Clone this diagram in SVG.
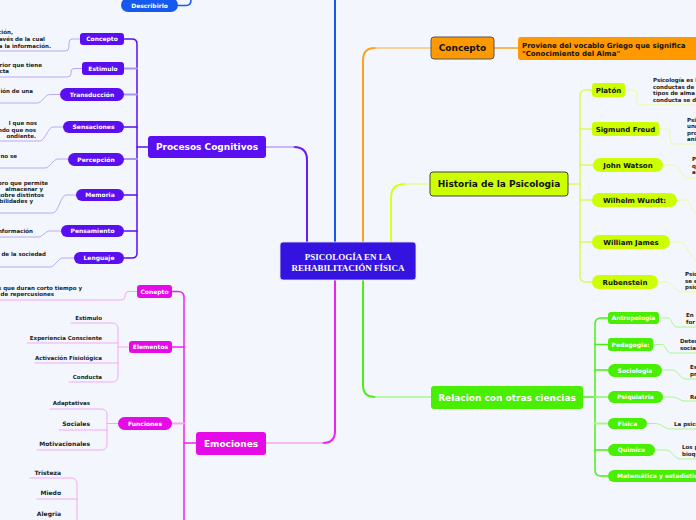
<svg xmlns="http://www.w3.org/2000/svg" width="696" height="520" viewBox="0 0 696 520">
<style>
.b9{font:bold 9px "DejaVu Sans",sans-serif}
.b7{font:bold 7px "DejaVu Sans",sans-serif}
.b6{font:bold 6px "DejaVu Sans",sans-serif}
.d{font:bold 5.5px "DejaVu Sans",sans-serif;fill:#222}
.s{font:bold 6px "DejaVu Sans",sans-serif;fill:#222}
.w{fill:#fff}
.k{fill:#111}
.m{text-anchor:middle}
.e{text-anchor:end}
.pu{fill:#5a0ff0}
.ma{fill:#e60ae6}
.gr{fill:#48ef00}
.yg{fill:#ccff00}
path{fill:none;stroke-linecap:round}
</style>
<rect width="696" height="520" fill="#f3f6fd"/>
<g id="connectors">
  <path d="M335,242 V0" stroke="#1659ee" stroke-width="2"/>
  <path d="M178,5.5 H186 Q191,5.5 191,0" stroke="#1659ee" stroke-width="1.5"/>
  <path d="M363,242 V60 Q363,48 375,48" stroke="#ffa020" stroke-width="2"/>
  <path d="M375,48 H431" stroke="#ffc27a" stroke-width="1.5"/>
  <path d="M494,48 H518" stroke="#ffa020" stroke-width="1.5"/>
  <path d="M391,242 V198 Q391,184 405,184" stroke="#d6ff22" stroke-width="2"/>
  <path d="M405,184 H430" stroke="#e6ff88" stroke-width="1.5"/>
  <path d="M307,242 V160 Q307,147 294,147" stroke="#6a1af5" stroke-width="2"/>
  <path d="M294,147 H266" stroke="#b9a2f8" stroke-width="1.5"/>
  <path d="M335,280 V431 Q335,443 323,443" stroke="#ee22ee" stroke-width="2"/>
  <path d="M323,443 H266" stroke="#f5a6f5" stroke-width="1.5"/>
  <path d="M363,280 V385 Q363,397 375,397" stroke="#4ef010" stroke-width="2"/>
  <path d="M375,397 H431" stroke="#a6f88a" stroke-width="1.5"/>
  <g stroke="#dcfa5a" stroke-width="1.5">
    <path d="M568,184 H580"/>
    <path d="M592,90 H586 Q580,90 580,96 V276 Q580,282 586,282 H592"/>
    <path d="M580,129 H592 M580,165 H593 M580,200 H592 M580,242 H592"/>
  </g>
  <g stroke="#e8ff9c" stroke-width="1">
    <path d="M625,90 H634 Q637,90 637,94 V101 Q637,105 641,105 H696"/>
    <path d="M659,129 H667 Q670,129 670,133 V140 Q670,144 674,144 H696"/>
    <path d="M663,165 H674 C680,165 682,178 688,178 H696"/>
    <path d="M677,200 H686 C690,200 692,212 696,213"/>
    <path d="M670,242 H680 C686,242 690,258 696,260"/>
    <path d="M658,282 H667 C673,282 675,292 681,292 H696"/>
  </g>
  <g stroke="#4ef010" stroke-width="1.5">
    <path d="M583,397 H595"/>
    <path d="M608,318 H601 Q595,318 595,324 V470 Q595,476 601,476 H608"/>
    <path d="M595,344.5 H608 M595,370 H608 M595,450 H608"/>
  </g>
  <g stroke="#a6f88a" stroke-width="2">
    <path d="M595,397 H608 M595,423.5 H608"/>
  </g>
  <g stroke="#a8f890" stroke-width="1">
    <path d="M659,318 H668 C672,318 672,327 677,327 H696"/>
    <path d="M653,344.5 H662 C666,344.5 666,353 671,353 H696"/>
    <path d="M662,370 H672 C678,370 680,379 686,379 H696"/>
    <path d="M663,397 H673 C678,397 680,401 685,401 H696"/>
    <path d="M647,423.5 H656 C662,423.5 664,429 670,429 H696"/>
    <path d="M655,450 H666 C672,450 674,459 680,459 H696"/>
  </g>
  <g stroke="#5a0ff0" stroke-width="1.5">
    <path d="M148,147 H137"/>
    <path d="M124,39 H132 Q137,39 137,44 V253 Q137,258 132,258 H124"/>
    <path d="M137,127 H124 M137,195 H124 M137,231 H124"/>
  </g>
  <g stroke="#ab92f6" stroke-width="2">
    <path d="M137,68.5 H124 M137,94.5 H124 M137,159 H124"/>
  </g>
  <g stroke="#bca8f8" stroke-width="1">
    <path d="M80,39 H72 Q69,39 69,43 V47 Q69,51 65,51 H0"/>
    <path d="M82,68.5 H74 Q71,68.5 71,72 V74 Q71,77 67,77 H0"/>
    <path d="M60,94.5 H50 C45,94.5 42,103 37,103 H0"/>
    <path d="M63,127 H53 C48,127 45,141 40,141 H0"/>
    <path d="M68,159 H58 C53,159 50,168 45,168 H0"/>
    <path d="M76,195 H66 C61,195 58,213 53,213 H0"/>
    <path d="M61,231 H50 C45,231 43,237 38,237 H0"/>
    <path d="M74,258 H63 C58,258 55,267 50,267 H0"/>
  </g>
  <g stroke="#ee22ee" stroke-width="1.5">
    <path d="M196,443 H184"/>
    <path d="M172,291.5 H178 Q184,291.5 184,297.5 V520"/>
    <path d="M184,347 H172"/>
  </g>
  <path d="M184,423.5 H172" stroke="#f5a6f5" stroke-width="2"/>
  <g stroke="#f5a8f5" stroke-width="1">
    <path d="M137,291.5 H129 Q125,291.5 125,295.5 V297 Q125,300 121,300 H0"/>
    <path d="M129,347 H118"/>
    <path d="M71,323 H112 Q118,323 118,329 V376 Q118,382 112,382 H69"/>
    <path d="M27,343 H118 M35,363 H118"/>
    <path d="M118,423.5 H107"/>
    <path d="M50,409 H101 Q107,409 107,415 V444 Q107,450 101,450 H37"/>
    <path d="M59,430 H107"/>
    <path d="M30,478 H71 Q77,478 77,484 V520"/>
    <path d="M37,499 H77"/>
  </g>
</g>
<g id="center">
  <rect x="280" y="242" width="136" height="38" rx="3" fill="#3412e0" stroke="#e8e6ff" stroke-width="0.8"/>
  <text x="348" y="259.5" class="m" fill="#fff" style="font:bold 9px 'Liberation Serif',serif">PSICOLOGÍA EN LA</text>
  <text x="348" y="270.5" class="m" fill="#fff" style="font:bold 9px 'Liberation Serif',serif">REHABILITACIÓN FÍSICA</text>
</g>
<g id="describirlo">
  <rect x="121" y="-2" width="57" height="14" rx="7" fill="#1659ee"/>
  <text x="149.5" y="7.5" class="b6 w m">Describirlo</text>
</g>
<g id="concepto-psicologia">
  <rect x="431" y="37" width="63" height="22" rx="3" fill="#ff9900" stroke="#555" stroke-width="1"/>
  <text x="462.5" y="51.3" class="b9 k m">Concepto</text>
</g>
<g id="concepto-desc">
  <rect x="518" y="37" width="190" height="23" rx="3" fill="#ff9900"/>
  <text x="522" y="47.5" class="b7 k">Proviene del vocablo Griego que significa</text>
  <text x="522" y="56" class="b7 k">"Conocimiento del Alma"</text>
</g>
<g id="historia">
  <rect x="430" y="172" width="138" height="24" rx="3" fill="#ccff00" stroke="#444" stroke-width="1"/>
  <text x="499" y="187.3" class="b9 k m">Historia de la Psicologia</text>
</g>
<g id="platon">
  <rect x="592" y="83" width="33" height="14" rx="3" class="yg"/>
  <text x="608.5" y="92.5" class="b7 k m">Platón</text>
  <text x="653" y="82" class="d">Psicología es l</text>
  <text x="653" y="88.5" class="d">conductas de l</text>
  <text x="653" y="95" class="d">tipos de alma</text>
  <text x="653" y="101.5" class="d">conducta se d</text>
</g>
<g id="freud">
  <rect x="592" y="122" width="67" height="14" rx="3" class="yg"/>
  <text x="625.5" y="131.5" class="b7 k m">Sigmund Freud</text>
  <text x="687" y="121.5" class="d">Psi</text>
  <text x="687" y="128" class="d">una</text>
  <text x="687" y="134.5" class="d">pro</text>
  <text x="687" y="141" class="d">ani</text>
</g>
<g id="watson">
  <rect x="593" y="158" width="70" height="14" rx="7" class="yg"/>
  <text x="628" y="167.5" class="b7 k m">John Watson</text>
  <text x="692" y="161" class="d">P</text>
  <text x="692" y="167.5" class="d">q</text>
  <text x="692" y="174" class="d">a</text>
</g>
<g id="wundt">
  <rect x="592" y="193" width="85" height="14" rx="7" class="yg"/>
  <text x="634.5" y="202.5" class="b7 k m">Wilhelm Wundt:</text>
</g>
<g id="james">
  <rect x="592" y="235" width="78" height="14" rx="7" class="yg"/>
  <text x="631" y="244.5" class="b7 k m">William James</text>
</g>
<g id="rubenstein">
  <rect x="592" y="275" width="66" height="14" rx="7" class="yg"/>
  <text x="625" y="284.5" class="b7 k m">Rubenstein</text>
  <text x="685" y="276" class="d">Psic</text>
  <text x="685" y="282.5" class="d">se e</text>
  <text x="685" y="289" class="d">psic</text>
</g>
<g id="relacion">
  <rect x="431" y="386" width="152" height="23" rx="3" class="gr"/>
  <text x="507" y="401" class="b9 w m">Relacion con otras ciencias</text>
</g>
<g id="antropologia">
  <rect x="608" y="312" width="51" height="12" rx="3" class="gr"/>
  <text x="633.5" y="320.2" class="b6 w m">Antropologia</text>
  <text x="686" y="317" class="d">En</text>
  <text x="686" y="323.5" class="d">for</text>
</g>
<g id="pedagogia">
  <rect x="608" y="338" width="45" height="13" rx="3" class="gr"/>
  <text x="630.5" y="346.7" class="b6 w m">Pedagogia:</text>
  <text x="680" y="343" class="d">Deter</text>
  <text x="680" y="349.5" class="d">social</text>
</g>
<g id="sociologia">
  <rect x="608" y="364" width="54" height="13" rx="6.5" class="gr"/>
  <text x="635" y="372.7" class="b6 w m">Sociologia</text>
  <text x="690" y="369" class="d">Es</text>
  <text x="690" y="375.5" class="d">pr</text>
</g>
<g id="psiquiatria">
  <rect x="608" y="391" width="55" height="12" rx="6" class="gr"/>
  <text x="635.5" y="399.2" class="b6 w m">Psiquiatria</text>
  <text x="690" y="399" class="d">Ra</text>
</g>
<g id="fisica">
  <rect x="608" y="418" width="39" height="11" rx="5.5" class="gr"/>
  <text x="627.5" y="425.7" class="b6 w m">Fisica</text>
  <text x="674" y="426" class="d">La psico</text>
</g>
<g id="quimica">
  <rect x="608" y="444" width="47" height="12" rx="6" class="gr"/>
  <text x="631.5" y="452.2" class="b6 w m">Quimica</text>
  <text x="682" y="449" class="d">Los p</text>
  <text x="682" y="455.5" class="d">bioqu</text>
</g>
<g id="matematica">
  <rect x="608" y="470" width="100" height="12" rx="6" class="gr"/>
  <text x="617" y="478.2" class="b6 w">Matemática y estadistica</text>
</g>
<g id="procesos">
  <rect x="148" y="136" width="118" height="22" rx="3" class="pu"/>
  <text x="207" y="150.3" class="b9 w m">Procesos Cognitivos</text>
</g>
<g id="p-concepto">
  <rect x="80" y="33" width="44" height="12" rx="3" class="pu"/>
  <text x="102" y="41.3" class="b6 w m">Concepto</text>
  <text x="13" y="34" class="d e">ción,</text>
  <text x="45" y="41" class="d e">avés de la cual</text>
  <text x="51" y="47.5" class="d e">a la información.</text>
</g>
<g id="p-estimulo">
  <rect x="82" y="62" width="42" height="13" rx="3" class="pu"/>
  <text x="103" y="70.7" class="b6 w m">Estimulo</text>
  <text x="42" y="67" class="d e">rior que tiene</text>
  <text x="9" y="73" class="d e">cta</text>
</g>
<g id="p-transduccion">
  <rect x="60" y="88" width="64" height="13" rx="6.5" class="pu"/>
  <text x="92" y="96.7" class="b6 w m">Transducción</text>
  <text x="33" y="93" class="d e">ión de una</text>
</g>
<g id="p-sensaciones">
  <rect x="63" y="121" width="61" height="12" rx="6" class="pu"/>
  <text x="93.5" y="129.2" class="b6 w m">Sensaciones</text>
  <text x="37" y="125" class="d e">l que nos</text>
  <text x="36" y="131.5" class="d e">ndo que nos</text>
  <text x="36" y="138" class="d e">ondiente.</text>
</g>
<g id="p-percepcion">
  <rect x="68" y="153" width="56" height="13" rx="6.5" class="pu"/>
  <text x="96" y="161.7" class="b6 w m">Percepción</text>
  <text x="17" y="158" class="d e">no se</text>
</g>
<g id="p-memoria">
  <rect x="76" y="189" width="48" height="12" rx="6" class="pu"/>
  <text x="100" y="197.2" class="b6 w m">Memoria</text>
  <text x="48" y="185" class="d e">bro que permite</text>
  <text x="43" y="191" class="d e">almacenar y</text>
  <text x="44" y="197" class="d e">sobre distintos</text>
  <text x="33" y="203" class="d e">bilidades y</text>
</g>
<g id="p-pensamiento">
  <rect x="61" y="225" width="63" height="12" rx="6" class="pu"/>
  <text x="92.5" y="233.2" class="b6 w m">Pensamiento</text>
  <text x="33" y="233" class="d e">nformación</text>
</g>
<g id="p-lenguaje">
  <rect x="74" y="252" width="50" height="12" rx="6" class="pu"/>
  <text x="99" y="260.2" class="b6 w m">Lenguaje</text>
  <text x="46" y="256" class="d e">n de la sociedad</text>
</g>
<g id="emociones">
  <rect x="196" y="432" width="70" height="23" rx="3" class="ma"/>
  <text x="231" y="446.8" class="b9 w m">Emociones</text>
</g>
<g id="e-conepto">
  <rect x="137" y="285" width="35" height="13" rx="3" class="ma"/>
  <text x="154.5" y="293.7" class="b6 w m">Conepto</text>
  <text x="82" y="289.5" class="d e">s que duran corto tiempo y</text>
  <text x="54" y="296" class="d e">de repercusiones</text>
</g>
<g id="e-elementos">
  <rect x="129" y="341" width="43" height="12" rx="3" class="ma"/>
  <text x="150.5" y="349.2" class="b6 w m">Elementos</text>
  <text x="102" y="320" class="d e">Estimulo</text>
  <text x="102" y="339.5" class="d e">Experiencia Consciente</text>
  <text x="102" y="359.5" class="d e">Activación Fisiológica</text>
  <text x="102" y="378.5" class="d e">Conducta</text>
</g>
<g id="e-funciones">
  <rect x="118" y="417" width="54" height="13" rx="6.5" class="ma"/>
  <text x="145" y="425.7" class="b6 w m">Funciones</text>
  <text x="90" y="405" class="d e">Adaptativas</text>
  <text x="90" y="425.5" class="s e">Sociales</text>
  <text x="90" y="445.5" class="s e">Motivacionales</text>
</g>
<g id="e-tipos">
  <text x="61" y="474.5" class="s e">Tristeza</text>
  <text x="61" y="494.5" class="s e">Miedo</text>
  <text x="61" y="515.5" class="s e">Alegria</text>
</g>
</svg>
